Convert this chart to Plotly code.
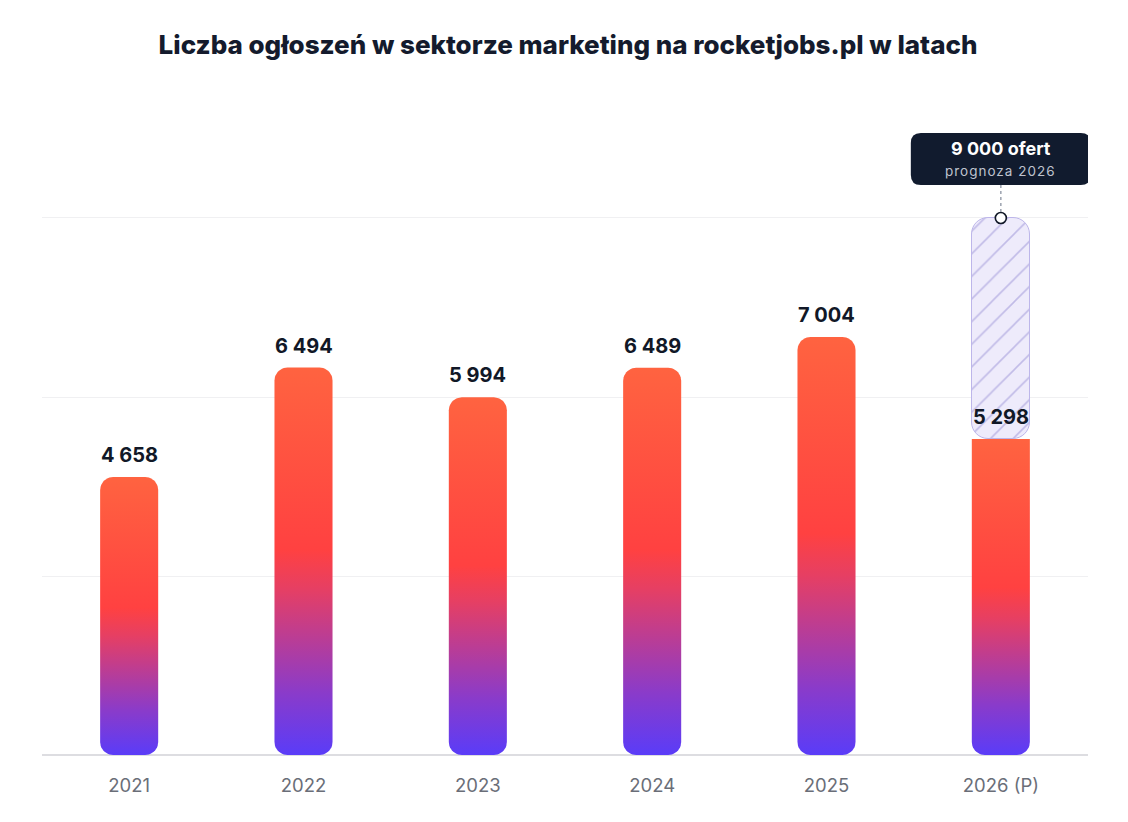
import numpy as np
import plotly.graph_objects as go

# data
years = ["2021", "2022", "2023", "2024", "2025", "2026 (P)"]
offers = [4658, 6494, 5994, 6489, 7004, 5298]
forecast = 9000
forecast_label = "9 000 ofert"
forecast_sub = "prognoza 2026"
title = "Liczba ogłoszeń w sektorze marketing na rocketjobs.pl w latach"

# layout constants (page body adds 8px margin, so the figure is 8px smaller)
W, H = 1120, 814
ML, MR, MT, MB = 34, 40, 112, 58
Y_MIN, Y_MAX = -150, 10642
BAR_W = 0.333
RADIUS = 13  # px
FONT = "Inter, Roboto, sans-serif"
DARK = "#111827"

PX_X = (W - ML - MR) / len(years)
PX_Y = (H - MT - MB) / (Y_MAX - Y_MIN)

grad = [[0.0, "#5A3CF8"], [0.16, "#8A3BCA"], [0.33, "#C43D8A"],
        [0.43, "#E63F63"], [0.53, "#FF4141"], [1.0, "#FF6340"]]


def fmt(v):
    return "{:,}".format(v).replace(",", " ")


def pill(xc, y0, y1, round_top=True, round_bottom=True):
    # rounded rectangle outline in data coords, corners kept circular in px
    hw = BAR_W / 2
    rx, ry = RADIUS / PX_X, RADIUS / PX_Y
    xs, ys = [], []
    corners = [(xc + hw, y1, xc + hw - rx, y1 - ry, 0, round_top),
               (xc - hw, y1, xc - hw + rx, y1 - ry, 90, round_top),
               (xc - hw, y0, xc - hw + rx, y0 + ry, 180, round_bottom),
               (xc + hw, y0, xc + hw - rx, y0 + ry, 270, round_bottom)]
    for px, py, cx, cy, a0, rounded in corners:
        if rounded:
            t = np.radians(np.linspace(a0, a0 + 90, 12))
            xs += list(cx + rx * np.cos(t))
            ys += list(cy + ry * np.sin(t))
        else:
            xs.append(px)
            ys.append(py)
    xs.append(xs[0])
    ys.append(ys[0])
    return xs, ys


fig = go.Figure()

# forecast bar (hatched)
last = len(years) - 1
fig.add_trace(go.Bar(
    x=[last], y=[forecast - offers[last]], base=[offers[last]], width=[BAR_W],
    marker=dict(color="#EEEBFB", cornerradius=17,
                line=dict(color="#BDB6EA", width=1),
                pattern=dict(shape="/", fgcolor="#948CD4", bgcolor="#EEEBFB",
                             size=16, solidity=0.1)),
    hoverinfo="skip", showlegend=False))

# gradient bars
for i, v in enumerate(offers):
    xs, ys = pill(i, 0, v, round_top=(i != last))
    fig.add_trace(go.Scatter(
        x=xs, y=ys, mode="lines", fill="toself", line=dict(width=0),
        fillgradient=dict(type="vertical", colorscale=grad),
        hoverinfo="skip", showlegend=False))

# forecast marker point
fig.add_trace(go.Scatter(
    x=[last], y=[forecast], mode="markers",
    marker=dict(size=11, color="white", line=dict(color=DARK, width=1.6)),
    hoverinfo="skip", showlegend=False))

# value labels
for i, v in enumerate(offers):
    fig.add_annotation(x=i, y=v, text="<b>" + fmt(v) + "</b>", showarrow=False,
                       yanchor="bottom", yshift=8,
                       font=dict(family=FONT, size=20, color=DARK))

# forecast callout
fig.add_shape(type="line", xref="x", yref="y", xsizemode="pixel", ysizemode="pixel",
              xanchor=last, yanchor=forecast, x0=0, x1=0, y0=6, y1=34,
              line=dict(color="#9CA3AF", width=1.5, dash="dot"))
r = 10
box = ("M -90,{a} L -90,{b} Q -90,{c} -80,{c} L 80,{c} Q 90,{c} 90,{b} "
       "L 90,{a} Q 90,{d} 80,{d} L -80,{d} Q -90,{d} -90,{a} Z").format(
    a=33 + r, b=85 - r, c=85, d=33)
fig.add_shape(type="path", xref="x", yref="y", xsizemode="pixel", ysizemode="pixel",
              xanchor=last, yanchor=forecast, path=box,
              fillcolor="#111B2E", line=dict(width=0))
fig.add_annotation(x=last, y=forecast, yshift=69, showarrow=False,
                   text="<b>" + forecast_label + "</b>",
                   font=dict(family=FONT, size=18, color="white"))
fig.add_annotation(x=last, y=forecast, yshift=47, showarrow=False,
                   text="<span style='letter-spacing:1px'>" + forecast_sub + "</span>",
                   font=dict(family=FONT, size=13.5, color="#BFC3CE"))

fig.update_layout(
    width=W, height=H,
    margin=dict(l=ML, r=MR, t=MT, b=MB),
    plot_bgcolor="white", paper_bgcolor="white",
    title=dict(text=title, x=0.5, xanchor="center",
               y=1 - 37 / H, yanchor="middle",
               font=dict(family=FONT, size=26, color="#141B2D", weight=800)),
    xaxis=dict(range=[-0.5, len(years) - 0.5], tickvals=list(range(len(years))),
               ticktext=years, showgrid=False, zeroline=False, showline=False,
               ticks="", ticklabelstandoff=8,
               tickfont=dict(family=FONT, size=18.5, color="#6A6E78")),
    yaxis=dict(range=[Y_MIN, Y_MAX], tickvals=[3000, 6000, 9000], showticklabels=False,
               gridcolor="#F0F0F2", gridwidth=1, zeroline=True,
               zerolinecolor="#DDDDE1", zerolinewidth=1.5),
    bargap=0,
)

fig.write_html("out.html")
